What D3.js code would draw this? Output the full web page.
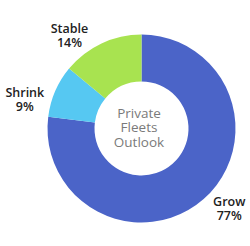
<!DOCTYPE html>
<html>
<head>
<meta charset="utf-8">
<script src="https://cdn.jsdelivr.net/npm/d3@7"></script>
<style>
  html, body { margin: 0; padding: 0; background: #fff; }
  svg { display: block; }
</style>
</head>
<body>
<svg id="chart" width="250" height="246"></svg>
<script>
// ---- data ----
const categories = ["Grow", "Shrink", "Stable"];
const values = [77, 9, 14];
const colors = ["#4B64C8", "#56C8F2", "#A8E350"];
const centerTitle = ["Private", "Fleets", "Outlook"];

// ---- layout ----
const W = 250, H = 246;
const cx = 141.5, cy = 128.5;
const outerR = 94, innerR = 47;
// label placement (polar, relative to chart centre): angle in degrees clockwise from top, radius in px
const labelPolar = { Grow: [132.5, 119], Shrink: [283.5, 120], Stable: [322, 117] };

const svg = d3.select("#chart");
const g = svg.append("g").attr("transform", `translate(${cx},${cy})`);

const data = categories.map((c, i) => ({ name: c, value: values[i], color: colors[i] }));
const pie = d3.pie().sort(null).value(d => d.value).startAngle(0).endAngle(2 * Math.PI);
const arc = d3.arc().innerRadius(innerR).outerRadius(outerR);

const arcs = pie(data);
g.selectAll("path.slice").data(arcs).join("path")
  .attr("class", "slice")
  .attr("d", arc)
  .attr("fill", d => d.data.color);

// outside labels
const lab = g.selectAll("g.lab").data(arcs).join("g").attr("class", "lab")
  .attr("transform", d => {
    const [deg, r] = labelPolar[d.data.name];
    const a = deg * Math.PI / 180;
    return `translate(${r * Math.sin(a)},${-r * Math.cos(a)})`;
  });
lab.append("text")
  .attr("text-anchor", "middle")
  .attr("y", -3)
  .attr("font-family", "'Open Sans', sans-serif")
  .attr("font-weight", 600)
  .attr("font-size", 12.5)
  .attr("fill", "#222")
  .text(d => d.data.name);
lab.append("text")
  .attr("text-anchor", "middle")
  .attr("y", 11)
  .attr("font-family", "'Open Sans', sans-serif")
  .attr("font-weight", 600)
  .attr("font-size", 12.5)
  .attr("fill", "#222")
  .text(d => d.data.value + "%");

// centre title
g.append("text")
  .attr("text-anchor", "middle")
  .attr("font-family", "'Open Sans', sans-serif")
  .attr("font-weight", 500)
  .attr("font-size", 13.5)
  .attr("fill", "#7a7a7a")
  .selectAll("tspan").data(centerTitle).join("tspan")
  .attr("x", -2.5)
  .attr("y", (d, i) => -10.8 + i * 14.5)
  .text(d => d);
</script>
</body>
</html>
